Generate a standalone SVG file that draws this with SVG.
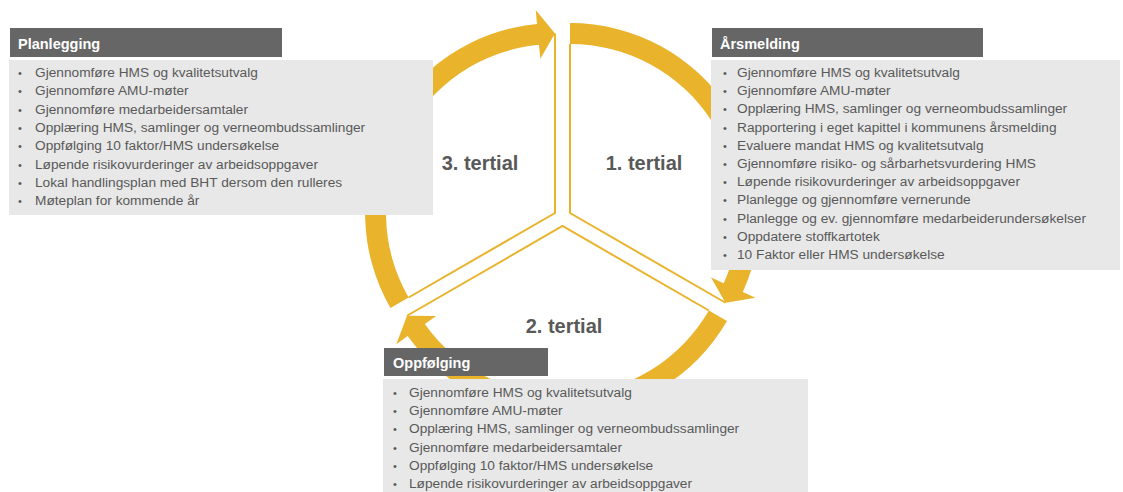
<svg xmlns="http://www.w3.org/2000/svg" width="1123" height="492" viewBox="0 0 1123 492">
<style>
.arc{fill:#E9B32C;}
.edge{fill:none;stroke:#E9B32C;stroke-width:2;}
.lbl{font-family:"Liberation Sans",Arial,sans-serif;font-weight:bold;font-size:20px;fill:#595959;text-anchor:middle;}
.hdr{fill:#666666;}
.body{fill:#E8E8E8;}
.ht{font-family:"Liberation Sans",Arial,sans-serif;font-weight:bold;font-size:14.5px;fill:#FFFFFF;}
.it{font-family:"Liberation Sans",Arial,sans-serif;font-size:13.7px;fill:#595959;}
.bu{font-family:"Liberation Sans",Arial,sans-serif;font-size:11px;fill:#595959;}
</style>
<rect width="1123" height="492" fill="#FFFFFF"/>
<g id="connectors">
<path id="arrow1" class="arc" d="M570,23 A190,190 0 0 1 742.8,292.0 L755.5,297.8 L725.5,302.75 L711.0,277.4 L723.7,283.3 A169,169 0 0 0 570,44 Z"/>
<path id="arrow2" class="arc" d="M727.0,321.0 A190,190 0 0 1 407.7,336.1 L396.3,344.3 L407.0,315.75 L436.2,315.9 L424.8,324.0 A169,169 0 0 0 708.9,310.5 Z"/>
<path id="arrow3" class="arc" d="M390.5,308 A190,190 0 0 1 537.0,23.9 L535.7,9.9 L555,33.5 L540.3,58.7 L539.0,44.8 A169,169 0 0 0 408.6,297.5 Z"/>
</g>
<g id="tertial1">
<polyline class="edge" points="570,44 570,213 725.5,302.75"/>
<text class="lbl" x="644" y="170">1. tertial</text>
</g>
<g id="tertial2">
<polyline class="edge" points="708.9,310.5 562.5,226 407,315.75"/>
<text class="lbl" x="564" y="333">2. tertial</text>
</g>
<g id="tertial3">
<polyline class="edge" points="408.6,297.5 555,213 555,33.5"/>
<text class="lbl" x="480" y="170">3. tertial</text>
</g>
<g id="planlegging">
<rect class="hdr" x="10" y="28" width="272" height="29"/>
<text class="ht" x="18" y="49">Planlegging</text>
<rect class="body" x="9" y="60" width="424" height="155"/>
<g class="bu"><text x="18" y="77">•</text><text x="18" y="95.3">•</text><text x="18" y="113.6">•</text><text x="18" y="131.9">•</text><text x="18" y="150.2">•</text><text x="18" y="168.5">•</text><text x="18" y="186.8">•</text><text x="18" y="205.1">•</text></g>
<text class="it" x="35" y="77">Gjennomføre HMS og kvalitetsutvalg</text>
<text class="it" x="35" y="95.3">Gjennomføre AMU-møter</text>
<text class="it" x="35" y="113.6">Gjennomføre medarbeidersamtaler</text>
<text class="it" x="35" y="131.9">Opplæring HMS, samlinger og verneombudssamlinger</text>
<text class="it" x="35" y="150.2">Oppfølging 10 faktor/HMS undersøkelse</text>
<text class="it" x="35" y="168.5">Løpende risikovurderinger av arbeidsoppgaver</text>
<text class="it" x="35" y="186.8">Lokal handlingsplan med BHT dersom den rulleres</text>
<text class="it" x="35" y="205.1">Møteplan for kommende år</text>
</g>
<g id="arsmelding">
<rect class="hdr" x="712" y="28" width="271" height="29"/>
<text class="ht" x="720" y="49">Årsmelding</text>
<rect class="body" x="711" y="60" width="409" height="210"/>
<g class="bu"><text x="723" y="77">•</text><text x="723" y="95.2">•</text><text x="723" y="113.4">•</text><text x="723" y="131.6">•</text><text x="723" y="149.8">•</text><text x="723" y="168">•</text><text x="723" y="186.2">•</text><text x="723" y="204.4">•</text><text x="723" y="222.6">•</text><text x="723" y="240.8">•</text><text x="723" y="259">•</text></g>
<text class="it" x="737" y="77">Gjennomføre HMS og kvalitetsutvalg</text>
<text class="it" x="737" y="95.2">Gjennomføre AMU-møter</text>
<text class="it" x="737" y="113.4">Opplæring HMS, samlinger og verneombudssamlinger</text>
<text class="it" x="737" y="131.6">Rapportering i eget kapittel i kommunens årsmelding</text>
<text class="it" x="737" y="149.8">Evaluere mandat HMS og kvalitetsutvalg</text>
<text class="it" x="737" y="168">Gjennomføre risiko- og sårbarhetsvurdering HMS</text>
<text class="it" x="737" y="186.2">Løpende risikovurderinger av arbeidsoppgaver</text>
<text class="it" x="737" y="204.4">Planlegge og gjennomføre vernerunde</text>
<text class="it" x="737" y="222.6">Planlegge og ev. gjennomføre medarbeiderundersøkelser</text>
<text class="it" x="737" y="240.8">Oppdatere stoffkartotek</text>
<text class="it" x="737" y="259">10 Faktor eller HMS undersøkelse</text>
</g>
<g id="oppfolging">
<rect class="hdr" x="384" y="348" width="164" height="28"/>
<text class="ht" x="393" y="368">Oppfølging</text>
<rect class="body" x="383" y="379" width="425" height="113"/>
<g class="bu"><text x="393" y="397">•</text><text x="393" y="415.2">•</text><text x="393" y="433.4">•</text><text x="393" y="451.6">•</text><text x="393" y="469.8">•</text><text x="393" y="488">•</text></g>
<text class="it" x="409" y="397">Gjennomføre HMS og kvalitetsutvalg</text>
<text class="it" x="409" y="415.2">Gjennomføre AMU-møter</text>
<text class="it" x="409" y="433.4">Opplæring HMS, samlinger og verneombudssamlinger</text>
<text class="it" x="409" y="451.6">Gjennomføre medarbeidersamtaler</text>
<text class="it" x="409" y="469.8">Oppfølging 10 faktor/HMS undersøkelse</text>
<text class="it" x="409" y="488">Løpende risikovurderinger av arbeidsoppgaver</text>
</g>
</svg>
